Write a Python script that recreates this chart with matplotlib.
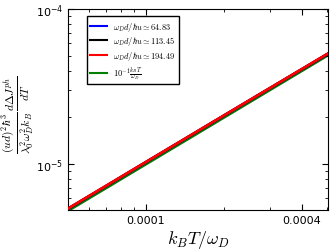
import matplotlib
matplotlib.use("Agg")
import matplotlib.pyplot as plt
from matplotlib.ticker import FixedLocator, FixedFormatter, LogLocator, NullFormatter

plt.rcParams['mathtext.fontset'] = 'cm'
plt.rcParams['xtick.direction'] = 'in'
plt.rcParams['ytick.direction'] = 'in'

# temperature axis  k_B T / omega_D
kt = [5e-5, 7e-5, 1e-4, 1.5e-4, 2e-4, 3e-4, 4e-4, 5.1e-4]

# curves for three values of omega_D d / hbar u (almost on top of each other)
j_64 = [5.14e-6, 7.2e-6, 1.028e-5, 1.541e-5, 2.054e-5, 3.075e-5, 4.09e-5, 5.2e-5]
j_113 = [5.15e-6, 7.21e-6, 1.03e-5, 1.543e-5, 2.056e-5, 3.078e-5, 4.095e-5, 5.21e-5]
j_194 = [5.16e-6, 7.22e-6, 1.031e-5, 1.545e-5, 2.058e-5, 3.08e-5, 4.1e-5, 5.22e-5]
# reference line 10^-1 k_B T / omega_D
j_ref = [5.0e-6, 7.0e-6, 1.0e-5, 1.5e-5, 2.0e-5, 3.0e-5, 4.0e-5, 5.1e-5]

labels = [r'$\omega_D d/\hbar u\simeq 64.83$',
          r'$\omega_D d/\hbar u\simeq 113.45$',
          r'$\omega_D d/\hbar u\simeq 194.49$',
          r'$10^{-1}\frac{k_BT}{\omega_D}$']

fig = plt.figure(figsize=(3.32, 2.51), dpi=100)
ax = fig.add_axes([0.205, 0.159, 0.783, 0.801])

ax.plot(kt, j_ref, color='green', lw=2, label=labels[3], zorder=1)
ax.plot(kt, j_64, color='blue', lw=2, label=labels[0], zorder=2)
ax.plot(kt, j_113, color='black', lw=2, label=labels[1], zorder=3)
ax.plot(kt, j_194, color='red', lw=2, label=labels[2], zorder=4)

ax.set_xscale('log')
ax.set_yscale('log')
ax.set_xlim(5e-5, 5.04e-4)
ax.set_ylim(5.05e-6, 1e-4)

ax.xaxis.set_major_locator(FixedLocator([1e-4, 4e-4]))
ax.xaxis.set_major_formatter(FixedFormatter(['0.0001', '0.0004']))
ax.xaxis.set_minor_locator(LogLocator(base=10, subs=[2, 3, 5, 6, 7, 8, 9]))
ax.xaxis.set_minor_formatter(NullFormatter())
ax.yaxis.set_major_locator(FixedLocator([1e-5, 1e-4]))
ax.yaxis.set_major_formatter(FixedFormatter([r'$\mathdefault{10^{-5}}$', r'$\mathdefault{10^{-4}}$']))
ax.yaxis.set_minor_locator(LogLocator(base=10, subs=[2, 3, 4, 5, 6, 7, 8, 9]))
ax.yaxis.set_minor_formatter(NullFormatter())

ax.tick_params(which='both', top=True, right=True, labelsize=8)
ax.tick_params(which='major', length=4)
ax.tick_params(which='minor', length=2)

ax.set_xlabel(r'$k_BT/\omega_D$', fontsize=13, labelpad=2)
fig.text(18 / 332, 1 - 115 / 251,
         r'$\frac{(ud)^2\hbar^3}{\lambda_0^2\omega_D^2k_B}\frac{d\Delta J^{ph}}{dT}$',
         fontsize=12, rotation=90, ha='center', va='center')

h, l = ax.get_legend_handles_labels()
order = [1, 2, 3, 0]
leg = ax.legend([h[i] for i in order], [l[i] for i in order], loc='upper left',
                bbox_to_anchor=(0.055, 0.985), fontsize=6, fancybox=False,
                edgecolor='black', framealpha=1, handlelength=2.0, borderpad=0.4,
                labelspacing=0.22, handletextpad=0.8)
for line in leg.get_lines():
    line.set_linewidth(1.5)

fig.savefig('out.png', dpi=100)
